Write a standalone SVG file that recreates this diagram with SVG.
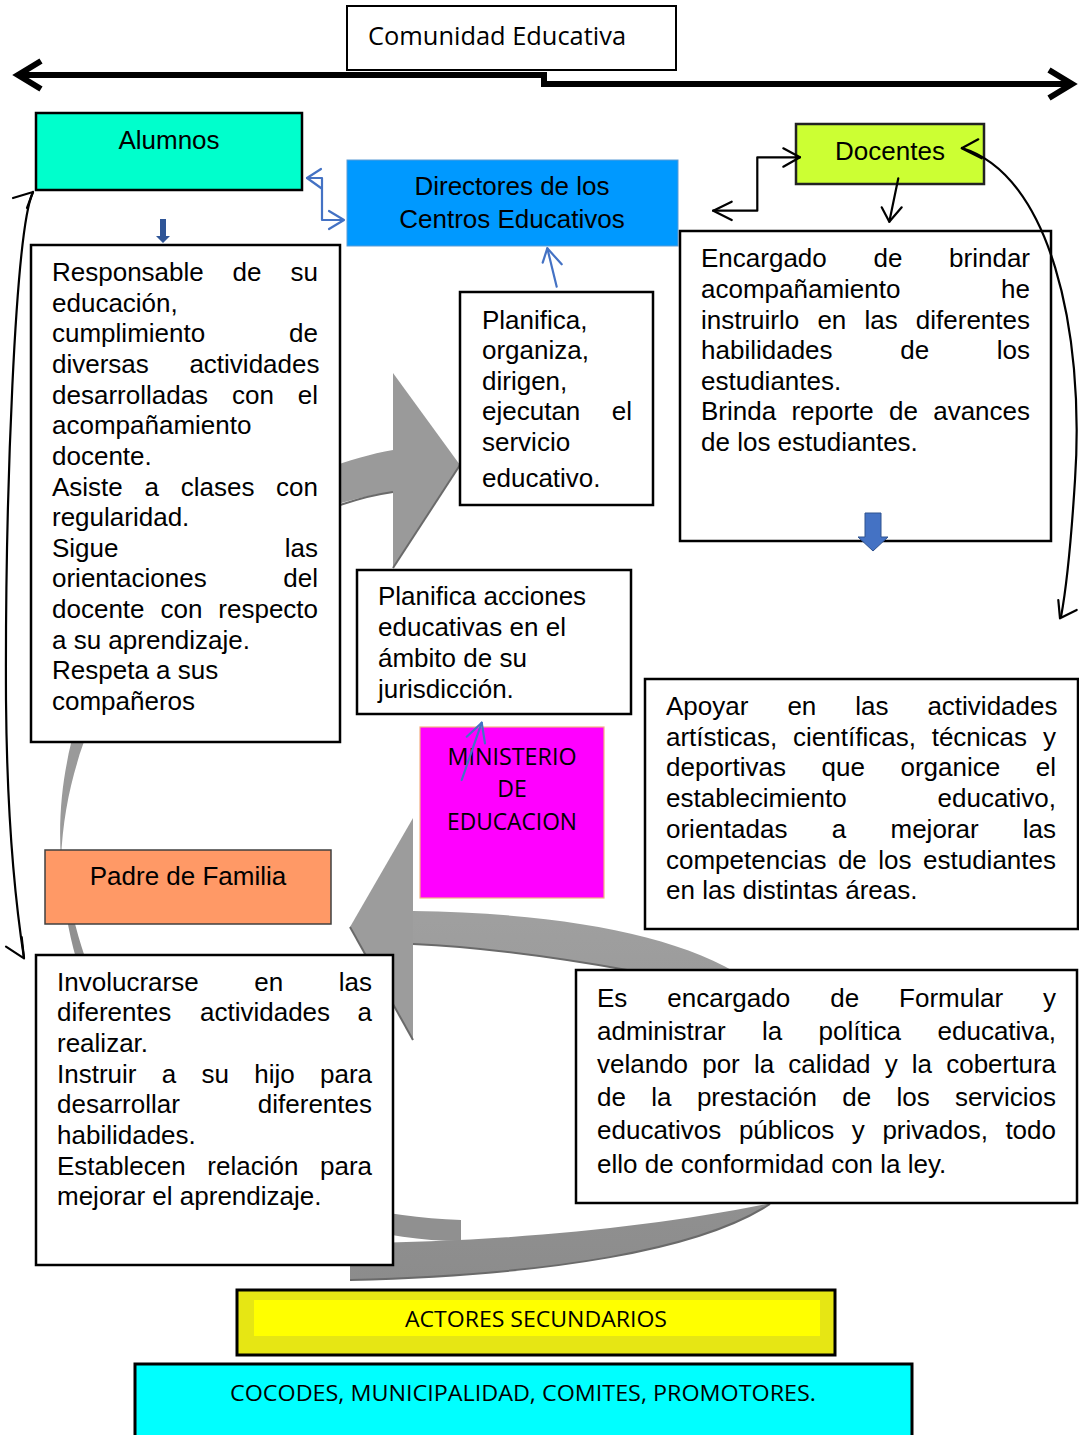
<svg xmlns="http://www.w3.org/2000/svg" width="1079" height="1435" viewBox="0 0 1079 1435">
<style>
.t{font-family:"Liberation Sans",Arial,sans-serif;font-size:26px;fill:#000}
.c{font-family:"Open Sans","Noto Sans",sans-serif;fill:#000}
.box{fill:#fff;stroke:#000;stroke-width:2.5}
.blk{fill:none;stroke:#000;stroke-width:2.2;stroke-linecap:round;stroke-linejoin:round}
.blu{fill:none;stroke:#4472C4;stroke-width:2.2;stroke-linecap:round;stroke-linejoin:round}
.shd{fill:none;stroke:#6a6a6a;stroke-width:2}
</style>
<defs>
<linearGradient id="g1" gradientUnits="userSpaceOnUse" x1="0" y1="900" x2="0" y2="1280">
<stop offset="0" stop-color="#a0a0a0"/><stop offset="1" stop-color="#8c8c8c"/>
</linearGradient>
</defs>

<g id="grey-arrows">
<path d="M393 450 C250 475 45 620 61 860 C 70 640 250 510 393 492 Z" fill="#9a9a9a"/>
<path d="M61 850 C62 1050 200 1210 461 1220 L461 1241 C220 1241 80 1040 62 850 Z" fill="#909090"/>
<polygon points="393,373 460,465 393,568" fill="#9a9a9a"/>
<line x1="460" y1="465" x2="393" y2="568" class="shd"/>
<path d="M393 492 C370 495 355 500 340 505" class="shd"/>
<path d="M413 911 C560 913 680 935 745 978 C860 1050 840 1150 770 1204 C700 1250 550 1275 350 1280 L350 1243 C500 1242 650 1228 767 1204 C780 1100 700 1000 627 970 C560 958 480 947 413 944 Z" fill="url(#g1)"/>
<path d="M770 1204 C700 1250 550 1275 350 1280" class="shd"/>
<path d="M627 970 C560 958 480 947 413 944" class="shd"/>
<polygon points="413,818 350,927 413,1040" fill="#9c9c9c"/>
<line x1="350" y1="927" x2="413" y2="1040" class="shd"/>
</g>

<g id="comunidad">
<rect x="347" y="6" width="329" height="64" fill="#fff" stroke="#000" stroke-width="2"/>
<text class="c" x="368" y="45" font-size="26" textLength="258" lengthAdjust="spacingAndGlyphs">Comunidad Educativa</text>
</g>

<g id="alumnos">
<rect x="36" y="113" width="266" height="77" fill="#00FFCC" stroke="#000" stroke-width="2.5"/>
<text class="t" x="169" y="149" text-anchor="middle">Alumnos</text>
</g>

<g id="directores">
<rect x="347" y="160" width="331" height="86" fill="#0099FF" stroke="#5B9BD5" stroke-width="1"/>
<text class="t" x="512" y="195" text-anchor="middle">Directores de los</text>
<text class="t" x="512" y="228" text-anchor="middle">Centros Educativos</text>
</g>

<g id="docentes">
<rect x="796" y="124" width="188" height="60" fill="#CCFF33" stroke="#222" stroke-width="2.5"/>
<text class="t" x="890" y="160" text-anchor="middle">Docentes</text>
</g>

<g id="alumnos-desc">
<rect x="31" y="245" width="309" height="497" class="box"/>
<text class="t"><tspan x="52" y="281">Responsable</tspan><tspan x="232.6">de</tspan><tspan x="290.5">su</tspan></text>
<text class="t" x="52" y="311.6">educación,</text>
<text class="t"><tspan x="52" y="342.3">cumplimiento</tspan><tspan x="289.1">de</tspan></text>
<text class="t"><tspan x="52" y="372.9">diversas</tspan><tspan x="189.4">actividades</tspan></text>
<text class="t"><tspan x="52" y="403.6">desarrolladas</tspan><tspan x="232">con</tspan><tspan x="297.8">el</tspan></text>
<text class="t" x="52" y="434.2">acompañamiento</text>
<text class="t" x="52" y="464.8">docente.</text>
<text class="t"><tspan x="52" y="495.5">Asiste</tspan><tspan x="144.5">a</tspan><tspan x="180.7">clases</tspan><tspan x="276.1">con</tspan></text>
<text class="t" x="52" y="526.1">regularidad.</text>
<text class="t"><tspan x="52" y="556.8">Sigue</tspan><tspan x="284.8">las</tspan></text>
<text class="t"><tspan x="52" y="587.4">orientaciones</tspan><tspan x="283.3">del</tspan></text>
<text class="t"><tspan x="52" y="618">docente</tspan><tspan x="160.5">con</tspan><tspan x="218.3">respecto</tspan></text>
<text class="t" x="52" y="648.7">a su aprendizaje.</text>
<text class="t" x="52" y="679.3">Respeta a sus</text>
<text class="t" x="52" y="710">compañeros</text>
</g>

<g id="directores-desc">
<rect x="460" y="292" width="193" height="213" class="box"/>
<text class="t" x="482" y="329">Planifica,</text>
<text class="t" x="482" y="359">organiza,</text>
<text class="t" x="482" y="390">dirigen,</text>
<text class="t"><tspan x="482" y="420">ejecutan</tspan><tspan x="611.8">el</tspan></text>
<text class="t" x="482" y="451">servicio</text>
<text class="t" x="482" y="487">educativo.</text>
</g>

<g id="docentes-desc">
<rect x="680" y="231" width="371" height="310" class="box"/>
<text class="t"><tspan x="701" y="267">Encargado</tspan><tspan x="873.5">de</tspan><tspan x="949.1">brindar</tspan></text>
<text class="t"><tspan x="701" y="298">acompañamiento</tspan><tspan x="1001.1">he</tspan></text>
<text class="t"><tspan x="701" y="329">instruirlo</tspan><tspan x="817.4">en</tspan><tspan x="864.5">las</tspan><tspan x="915.8">diferentes</tspan></text>
<text class="t"><tspan x="701" y="359">habilidades</tspan><tspan x="900.2">de</tspan><tspan x="996.8">los</tspan></text>
<text class="t" x="701" y="390">estudiantes.</text>
<text class="t"><tspan x="701" y="420">Brinda</tspan><tspan x="791.4">reporte</tspan><tspan x="889.1">de</tspan><tspan x="933.2">avances</tspan></text>
<text class="t" x="701" y="451">de los estudiantes.</text>
</g>

<g id="planifica-acciones">
<rect x="357" y="570" width="274" height="144" class="box"/>
<text class="t" x="378" y="605">Planifica acciones</text>
<text class="t" x="378" y="636">educativas en el</text>
<text class="t" x="378" y="667">ámbito de su</text>
<text class="t" x="378" y="698">jurisdicción.</text>
</g>

<g id="ministerio">
<rect x="420" y="727" width="184" height="171" fill="#FF00FF" stroke="#F4B183" stroke-width="1.2"/>
<text class="c" x="512" y="765" font-size="23" text-anchor="middle" textLength="129" lengthAdjust="spacingAndGlyphs">MINISTERIO</text>
<text class="c" x="512" y="797" font-size="23" text-anchor="middle">DE</text>
<text class="c" x="512" y="830" font-size="23" text-anchor="middle" textLength="130" lengthAdjust="spacingAndGlyphs">EDUCACION</text>
</g>

<g id="apoyar">
<rect x="645" y="679" width="433" height="250" class="box"/>
<text class="t"><tspan x="666" y="715">Apoyar</tspan><tspan x="787.4">en</tspan><tspan x="855.3">las</tspan><tspan x="927.4">actividades</tspan></text>
<text class="t"><tspan x="666" y="746">artísticas,</tspan><tspan x="793.1">científicas,</tspan><tspan x="931.7">técnicas</tspan><tspan x="1043">y</tspan></text>
<text class="t"><tspan x="666" y="776">deportivas</tspan><tspan x="821.5">que</tspan><tspan x="900.5">organice</tspan><tspan x="1035.8">el</tspan></text>
<text class="t"><tspan x="666" y="807">establecimiento</tspan><tspan x="937.5">educativo,</tspan></text>
<text class="t"><tspan x="666" y="838">orientadas</tspan><tspan x="831.7">a</tspan><tspan x="890.5">mejorar</tspan><tspan x="1022.8">las</tspan></text>
<text class="t"><tspan x="666" y="869">competencias</tspan><tspan x="837.9">de</tspan><tspan x="878.3">los</tspan><tspan x="923">estudiantes</tspan></text>
<text class="t" x="666" y="899">en las distintas áreas.</text>
</g>

<g id="padre">
<rect x="45" y="850" width="286" height="74" fill="#FF9966" stroke="#404040" stroke-width="1.5"/>
<text class="t" x="188" y="885" text-anchor="middle">Padre de Familia</text>
</g>

<g id="padre-desc">
<rect x="36" y="955" width="357" height="310" class="box"/>
<text class="t"><tspan x="57" y="991">Involucrarse</tspan><tspan x="254.3">en</tspan><tspan x="338.8">las</tspan></text>
<text class="t"><tspan x="57" y="1021">diferentes</tspan><tspan x="200">actividades</tspan><tspan x="357.5">a</tspan></text>
<text class="t" x="57" y="1052">realizar.</text>
<text class="t"><tspan x="57" y="1083">Instruir</tspan><tspan x="161.75">a</tspan><tspan x="201.5">su</tspan><tspan x="254.25">hijo</tspan><tspan x="320">para</tspan></text>
<text class="t"><tspan x="57" y="1113">desarrollar</tspan><tspan x="257.8">diferentes</tspan></text>
<text class="t" x="57" y="1144">habilidades.</text>
<text class="t"><tspan x="57" y="1175">Establecen</tspan><tspan x="207.3">relación</tspan><tspan x="320">para</tspan></text>
<text class="t" x="57" y="1205">mejorar el aprendizaje.</text>
</g>

<g id="ministerio-desc">
<rect x="576" y="970" width="501" height="233" class="box"/>
<text class="t"><tspan x="597" y="1007">Es</tspan><tspan x="667.3">encargado</tspan><tspan x="830.2">de</tspan><tspan x="899.1">Formular</tspan><tspan x="1043">y</tspan></text>
<text class="t"><tspan x="597" y="1040">administrar</tspan><tspan x="762">la</tspan><tspan x="818.6">política</tspan><tspan x="937.5">educativa,</tspan></text>
<text class="t"><tspan x="597" y="1073">velando</tspan><tspan x="702.2">por</tspan><tspan x="753.9">la</tspan><tspan x="788.2">calidad</tspan><tspan x="884.7">y</tspan><tspan x="911.8">la</tspan><tspan x="946.2">cobertura</tspan></text>
<text class="t"><tspan x="597" y="1106">de</tspan><tspan x="651.3">la</tspan><tspan x="696.9">prestación</tspan><tspan x="842.2">de</tspan><tspan x="896.5">los</tspan><tspan x="954.9">servicios</tspan></text>
<text class="t"><tspan x="597" y="1139">educativos</tspan><tspan x="738.9">públicos</tspan><tspan x="851.8">y</tspan><tspan x="882.4">privados,</tspan><tspan x="1005.4">todo</tspan></text>
<text class="t" x="597" y="1173">ello de conformidad con la ley.</text>
</g>

<g id="actores">
<rect x="237" y="1290" width="598" height="65" fill="#E6E614" stroke="#000" stroke-width="3"/>
<rect x="254" y="1300" width="566" height="36" fill="#FFFF00"/>
<text class="c" x="536" y="1327" font-size="22" text-anchor="middle" textLength="262" lengthAdjust="spacingAndGlyphs">ACTORES SECUNDARIOS</text>
</g>

<g id="cocodes">
<rect x="135" y="1364" width="777" height="80" fill="#00FFFF" stroke="#000" stroke-width="3"/>
<text class="c" x="523" y="1401" font-size="22" text-anchor="middle" textLength="586" lengthAdjust="spacingAndGlyphs">COCODES, MUNICIPALIDAD, COMITES, PROMOTORES.</text>
</g>

<g id="connectors">
<path d="M20 75 H544 V84 H1068" fill="none" stroke="#000" stroke-width="6"/>
<polyline points="41,61 18,75 41,89" fill="none" stroke="#000" stroke-width="6"/>
<polyline points="1049,70 1072,84 1049,98" fill="none" stroke="#000" stroke-width="6"/>
<path d="M307 178 H322 V220 H343" class="blu"/>
<polyline points="321,169 307,178 321,188" class="blu"/>
<polyline points="329,211 344,220 329,229" class="blu"/>
<line x1="556.7" y1="286.7" x2="547.3" y2="248.3" class="blu"/>
<polyline points="542.7,262.7 547.3,248.3 561.7,264.3" class="blu"/>
<line x1="461.7" y1="780" x2="481.7" y2="722.7" class="blu"/>
<polyline points="466.7,736.7 481.7,722.7 485,743.3" class="blu"/>
<polygon points="160,219 166,219 166,236 170,236 163,243 156,236 160,236" fill="#2F5597"/>
<polygon points="865,513 881,513 881,537 888,537 873,551 858,537 865,537" fill="#4472C4" stroke="#2F528F" stroke-width="1"/>
<path d="M713 210.7 H757.3 V157.3 H800" class="blk"/>
<polyline points="731.7,201.7 713.3,210.7 731.7,220" class="blk"/>
<polyline points="783.3,148.3 800,157.3 783.3,166.7" class="blk"/>
<line x1="898.3" y1="178.3" x2="889.3" y2="221.7" class="blk"/>
<polyline points="881.7,207.3 889.3,221.7 901.7,207.3" class="blk"/>
<path d="M962 148 C1050 175 1085 330 1075 480 C1070 560 1066 590 1061 617" class="blk"/>
<polyline points="978.3,139.3 961.7,148.3 981.7,158.3" class="blk"/>
<polyline points="1058.3,600 1060,618.3 1076.7,610" class="blk"/>
<path d="M33 192 C15 230 5 500 6 700 C7 820 15 900 24 958" class="blk"/>
<polyline points="13,198 33,192 27,208" class="blk"/>
<polyline points="6,946.7 24,958.3 21.7,937" class="blk"/>
</g>
</svg>
